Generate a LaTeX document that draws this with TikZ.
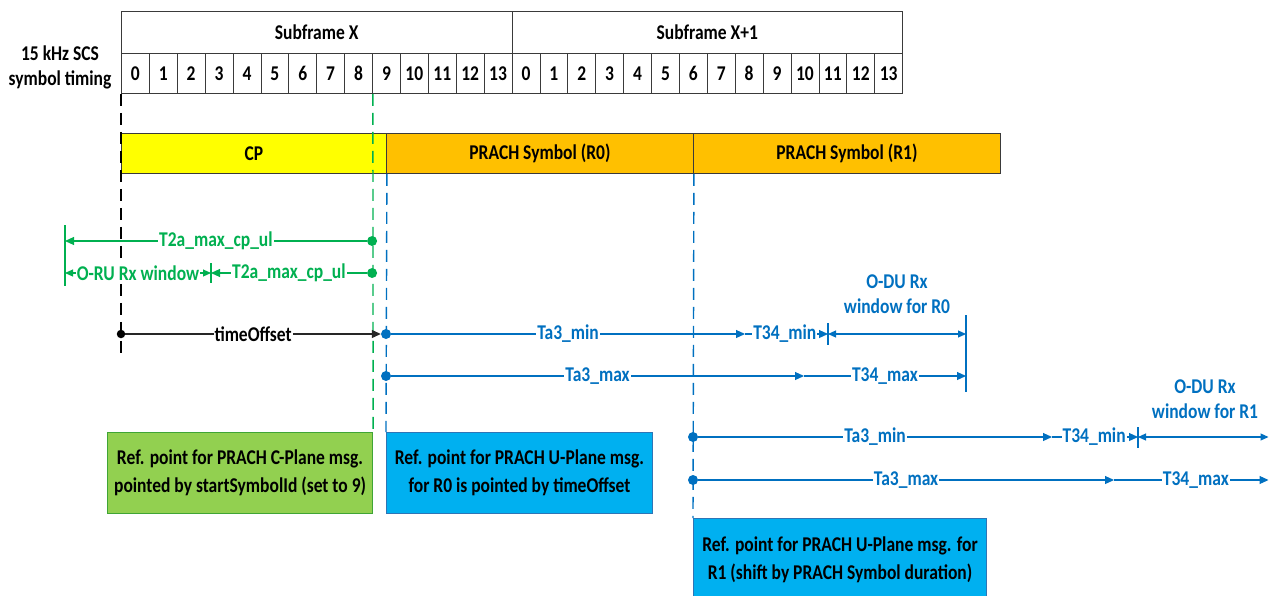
\documentclass[tikz,border=0pt]{standalone}
\usepackage{fontspec}
\setmainfont{Carlito}
\usepackage{graphicx}
\usetikzlibrary{arrows.meta}

\definecolor{grn}{HTML}{00B050}
\definecolor{blu}{HTML}{0070C0}
\definecolor{cpyel}{HTML}{FFFF00}
\definecolor{prorange}{HTML}{FFC000}
\definecolor{boxgreen}{HTML}{92D050}
\definecolor{boxgreenline}{HTML}{3FA535}
\definecolor{boxblue}{HTML}{00B0F0}
\definecolor{boxblueline}{HTML}{2E75B6}
\definecolor{gridline}{HTML}{3A3A3A}

% Calibri-like lettering, slightly taller than wide
\newcommand{\tall}[1]{\scalebox{1}[1.2]{#1}}

\tikzset{
  cell/.style={draw=gridline, line width=0.8pt, inner sep=0pt, anchor=north west,
    minimum width=27.9pt, minimum height=40pt},
  bar/.style={draw=gridline, line width=0.9pt, inner sep=0pt, anchor=north west,
    minimum width=307pt, minimum height=40pt},
  guide/.style={line width=1.4pt, dash pattern=on 12pt off 7pt},
  tip/.style={-{Triangle[length=9pt,width=8pt]}},
  tips/.style={{Triangle[length=8pt,width=7pt]}-{Triangle[length=8pt,width=7pt]}},
  conn/.style={line width=1.1pt},
  lbl/.style={fill=white, inner sep=1pt},
  dot/.style={circle, fill, inner sep=0pt, minimum size=10pt},
  refbox/.style={line width=1pt, inner sep=2pt, anchor=north west, align=center,
    font=\fontsize{17.5}{28}\selectfont\bfseries},
}

\begin{document}
\begin{tikzpicture}[x=1pt, y=-1pt, font=\fontsize{17.5}{21}\selectfont\bfseries]
\useasboundingbox (0,0) rectangle (1269,595);
\clip (0,0) rectangle (1269,595);

% ---- symbol timing grid ----
\node[align=center, font=\fontsize{17.5}{25}\selectfont\bfseries] (scs) at (60,67.5)
  {\tall{15 kHz SCS}\\\tall{symbol timing}};
\node[cell, minimum width=390.6pt, minimum height=42pt] (sfx) at (121,11) {\tall{Subframe X}};
\node[cell, minimum width=390.6pt, minimum height=42pt] (sfy) at (511.6,11) {\tall{Subframe X+1}};
\foreach \i in {0,...,13} {
  \node[cell] (a\i) at ({121+27.9*\i},53) {\tall{\i}};
  \node[cell] (b\i) at ({511.6+27.9*\i},53) {\tall{\i}};
}

% ---- CP and PRACH symbols ----
\node[bar, fill=cpyel, minimum width=265pt] (cp) at (121,133) {\tall{CP}};
\node[bar, fill=prorange] (r0) at (386,133) {\tall{PRACH Symbol (R0)}};
\node[bar, fill=prorange] (r1) at (693,133) {\tall{PRACH Symbol (R1)}};

% ---- reference point boxes ----
\node[refbox, draw=boxgreenline, fill=boxgreen, minimum width=265.1pt, minimum height=81pt]
  (cbox) at (107,432)
  {\tall{Ref. point for PRACH C-Plane msg.}\\\tall{pointed by startSymbolId (set to 9)}};
\node[refbox, draw=boxblueline, fill=boxblue, minimum width=266pt, minimum height=81pt]
  (ubox0) at (386,432)
  {\tall{Ref. point for PRACH U-Plane msg.}\\\tall{for R0 is pointed by timeOffset}};
\node[refbox, draw=boxblueline, fill=boxblue, minimum width=293pt, minimum height=82pt]
  (ubox1) at (693,518)
  {\tall{Ref. point for PRACH U-Plane msg. for}\\\tall{R1 (shift by PRACH Symbol duration)}};

% ---- vertical guides ----
\coordinate (kend) at (121,357);
\draw[guide, black] (a0.south west) -- (kend);
\draw[guide, grn] (a8.south east) -- (cbox.north east);
\draw[guide, blu] (cp.south east) -- (ubox0.north west);
\draw[guide, blu] (r0.south east) -- (ubox1.north west);

% ---- O-RU side (C-Plane) ----
\node[dot, grn] (g1) at (372.1,241) {};
\node[dot, grn] (g2) at (372.1,273) {};
\coordinate (wt) at (65,225);  \coordinate (wb) at (65,286);
\coordinate (w1) at (65,241);  \coordinate (w2) at (65,273);
\coordinate (vt) at (211,263); \coordinate (vb) at (211,283);
\coordinate (v2) at (211,273);
\draw[conn, grn, line width=1.4pt] (wt) -- (wb);
\draw[conn, grn] (vt) -- (vb);
\draw[conn, grn, tip] (g1) -- node[lbl, text=grn] {\tall{T2a\_max\_cp\_ul}} (w1);
\draw[conn, grn, tip] (g2) -- node[lbl, text=grn] {\tall{T2a\_max\_cp\_ul}} (v2);
\draw[conn, grn, tips] (w2) -- node[lbl, text=grn, inner sep=0.5pt] {\tall{O-RU Rx window}} (v2);

% ---- timeOffset ----
\node[dot, black, minimum size=8.5pt] (t0) at (121,334) {};
\node[dot, blu] (d0a) at (386,334) {};
\draw[conn, black!85, tip] (t0) -- node[lbl, text=black] {\tall{timeOffset}} (d0a);

% ---- O-DU side for R0 ----
\node[dot, blu] (d0b) at (386,376) {};
\coordinate (m0) at (745,334);  \coordinate (e0) at (828,334);
\coordinate (e0t) at (828,323); \coordinate (e0b) at (828,345);
\coordinate (f0t) at (966,315); \coordinate (f0b) at (966,392);
\coordinate (f0a) at (966,334); \coordinate (f0c) at (966,376);
\coordinate (x0) at (804,376);
\draw[conn, blu] (e0t) -- (e0b);
\draw[conn, blu, line width=1.4pt] (f0t) -- (f0b);
\draw[conn, blu, tip] (d0a) -- node[lbl, text=blu] {\tall{Ta3\_min}} (m0);
\draw[conn, blu, tip] (m0) -- node[lbl, text=blu, pos=0.48] {\tall{T34\_min}} (e0);
\draw[conn, blu, tips] (e0) -- (f0a);
\draw[conn, blu, tip] (d0b) -- node[lbl, text=blu] {\tall{Ta3\_max}} (x0);
\draw[conn, blu, tip] (x0) -- node[lbl, text=blu] {\tall{T34\_max}} (f0c);
\node[align=center, text=blu, font=\fontsize{17.5}{25}\selectfont\bfseries] (win0) at (897,294.5)
  {\tall{O-DU Rx}\\\tall{window for R0}};

% ---- O-DU side for R1 ----
\node[dot, blu] (d1a) at (693,437) {};
\node[dot, blu] (d1b) at (693,480) {};
\coordinate (m1) at (1052,437);  \coordinate (e1) at (1138,437);
\coordinate (e1t) at (1138,427); \coordinate (e1b) at (1138,448);
\coordinate (f1a) at (1268.5,437); \coordinate (f1c) at (1268.5,480);
\coordinate (x1) at (1114,480);
\draw[conn, blu] (e1t) -- (e1b);
\draw[conn, blu, tip] (d1a) -- node[lbl, text=blu] {\tall{Ta3\_min}} (m1);
\draw[conn, blu, tip] (m1) -- node[lbl, text=blu, pos=0.49] {\tall{T34\_min}} (e1);
\draw[conn, blu, tips] (e1) -- (f1a);
\draw[conn, blu, tip] (d1b) -- node[lbl, text=blu] {\tall{Ta3\_max}} (x1);
\draw[conn, blu, tip] (x1) -- node[lbl, text=blu, pos=0.53] {\tall{T34\_max}} (f1c);
\node[align=center, text=blu, font=\fontsize{17.5}{25}\selectfont\bfseries] (win1) at (1205,399.5)
  {\tall{O-DU Rx}\\\tall{window for R1}};
\end{tikzpicture}
\end{document}
